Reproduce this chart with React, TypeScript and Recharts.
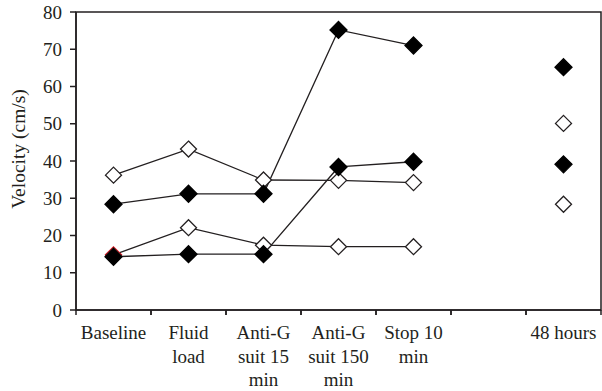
import { LineChart, Line, XAxis, YAxis, ReferenceArea } from 'recharts'

// categories (the empty slot is the gap before 48 hours)
const categories = ['Baseline', 'Fluid load', 'Anti-G suit 15 min', 'Anti-G suit 150 min', 'Stop 10 min', 'gap', '48 hours']
const categoryLabels: string[][] = [
  ['Baseline'],
  ['Fluid', 'load'],
  ['Anti-G', 'suit 15', 'min'],
  ['Anti-G', 'suit 150', 'min'],
  ['Stop 10', 'min'],
  [],
  ['48 hours'],
]
const yTicks = [0, 10, 20, 30, 40, 50, 60, 70, 80]

// series values (cm/s)
const openUpper = [36.2, 43.2, 34.9, 34.8, 34.2, null, 50.1]
const filledUpper = [28.4, 31.2, 31.2, 75.2, 71.0, null, 65.2]
const openLower = [14.8, 22.1, 17.4, 17.0, 17.0, null, 28.4]
const filledLower = [14.3, 15.0, 15.0, 38.4, 39.8, null, 39.1]

const data = categories.map((cat, i) => ({
  cat,
  openUpper: openUpper[i],
  filledUpper: filledUpper[i],
  openLower: openLower[i],
  filledLower: filledLower[i],
}))

const W = 602
const H = 391
const Y_AXIS_W = 76
const MARGIN = { top: 12, right: 1, bottom: 0, left: 0 }
const HALF_BAND = (W - Y_AXIS_W - MARGIN.left - MARGIN.right) / categories.length / 2

const INK = '#231f20'
const FONT = '"Liberation Serif", "Times New Roman", serif'

function Diamond({ cx, cy, r, fill, stroke }: { cx?: number; cy?: number; r: number; fill: string; stroke: string }) {
  if (cx == null || cy == null || isNaN(cy)) return <g />
  return (
    <polygon
      points={`${cx},${cy - r} ${cx + r},${cy} ${cx},${cy + r} ${cx - r},${cy}`}
      fill={fill}
      stroke={stroke}
      strokeWidth={1.3}
    />
  )
}

function XTick({ x, y, index }: { x?: number; y?: number; index?: number }) {
  const lines = categoryLabels[index ?? 0] || []
  const cx = x ?? 0
  const cy = y ?? 0
  return (
    <g>
      <line x1={cx - HALF_BAND} x2={cx - HALF_BAND} y1={cy} y2={cy + 5} stroke={INK} strokeWidth={1.5} />
      <line x1={cx + HALF_BAND} x2={cx + HALF_BAND} y1={cy} y2={cy + 5} stroke={INK} strokeWidth={1.5} />
      <text x={cx} y={cy + 29} textAnchor="middle" fill={INK} fontSize={19} fontFamily={FONT}>
        {lines.map((l, i) => (
          <tspan key={i} x={cx} dy={i === 0 ? 0 : 23.5}>
            {l}
          </tspan>
        ))}
      </text>
    </g>
  )
}

export default function App() {
  return (
    <div style={{ position: 'absolute', left: 0, top: 0, width: W, height: H, background: '#fff' }}>
      <LineChart width={W} height={H} data={data} margin={MARGIN}>
        <ReferenceArea y1={0} y2={80} fill="none" stroke={INK} strokeWidth={1.5} ifOverflow="visible" />
        <XAxis
          dataKey="cat"
          scale="band"
          interval={0}
          tickLine={false}
          tickSize={0}
          tickMargin={0}
          height={H - 310}
          axisLine={{ stroke: INK, strokeWidth: 1.5 }}
          tick={<XTick />}
        />
        <YAxis
          domain={[0, 80]}
          ticks={yTicks}
          width={Y_AXIS_W}
          tickSize={6}
          tickMargin={8}
          axisLine={{ stroke: INK, strokeWidth: 1.5 }}
          tickLine={{ stroke: INK, strokeWidth: 1.5 }}
          tick={{ fill: INK, fontSize: 19, fontFamily: FONT }}
          label={{
            content: (p: any) => {
              const vb = p.viewBox || { x: 0, y: 0, height: 0 }
              const lx = vb.x + 18
              const ly = vb.y + vb.height / 2 - 12
              return (
                <text
                  x={lx}
                  y={ly}
                  transform={`rotate(-90 ${lx} ${ly})`}
                  textAnchor="middle"
                  dominantBaseline="central"
                  fill={INK}
                  fontSize={19.5}
                  fontFamily={FONT}
                >
                  Velocity (cm/s)
                </text>
              )
            },
          }}
        />
        <Line
          dataKey="openLower"
          stroke={INK}
          strokeWidth={1.3}
          isAnimationActive={false}
          dot={(p: any) => (
            <Diamond key={`ol-${p.index}`} cx={p.cx} cy={p.cy} r={8} fill="#fff" stroke={p.index === 0 ? '#d0101a' : INK} />
          )}
        />
        <Line
          dataKey="openUpper"
          stroke={INK}
          strokeWidth={1.3}
          isAnimationActive={false}
          dot={(p: any) => <Diamond key={`ou-${p.index}`} cx={p.cx} cy={p.cy} r={8} fill="#fff" stroke={INK} />}
        />
        <Line
          dataKey="filledUpper"
          stroke={INK}
          strokeWidth={1.3}
          isAnimationActive={false}
          dot={(p: any) => <Diamond key={`fu-${p.index}`} cx={p.cx} cy={p.cy} r={8.5} fill="#000" stroke="#000" />}
        />
        <Line
          dataKey="filledLower"
          stroke={INK}
          strokeWidth={1.3}
          isAnimationActive={false}
          dot={(p: any) => <Diamond key={`fl-${p.index}`} cx={p.cx} cy={p.cy} r={8.5} fill="#000" stroke="#000" />}
        />
      </LineChart>
    </div>
  )
}
